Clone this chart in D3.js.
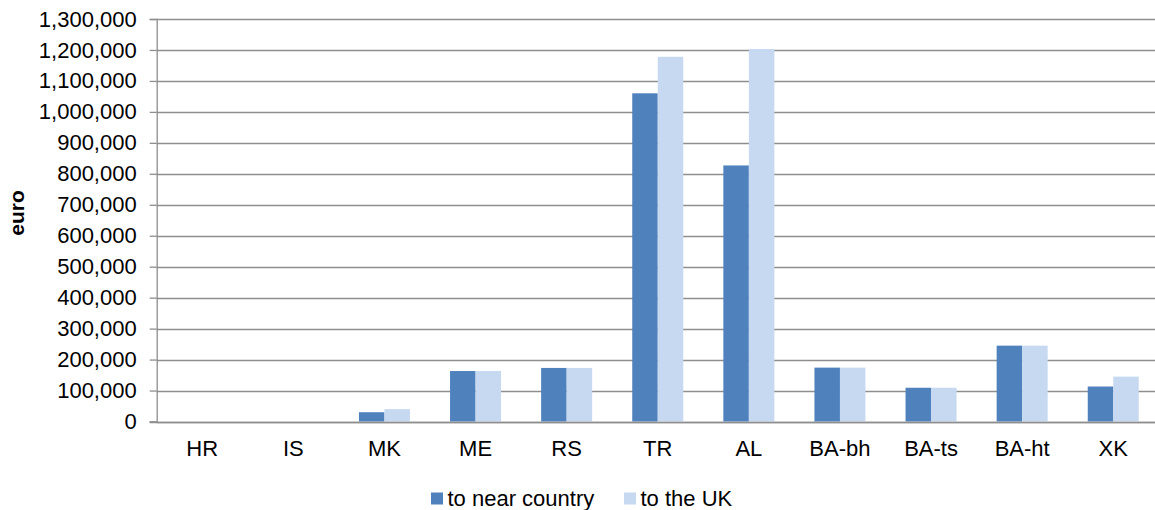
<!DOCTYPE html>
<html>
<head>
<meta charset="utf-8">
<script src="https://cdn.jsdelivr.net/npm/d3@7"></script>
<style>
  html, body { margin: 0; padding: 0; background: #fff; }
  svg { display: block; font-family: "Liberation Sans", Arial, sans-serif; }
</style>
</head>
<body>
<svg id="chart" width="1155" height="510"></svg>
<script>
// Categories and series values (euro)
const categories = ["HR", "IS", "MK", "ME", "RS", "TR", "AL", "BA-bh", "BA-ts", "BA-ht", "XK"];
const seriesNames = ["to near country", "to the UK"];
const nearCountry = [0, 0, 30000, 163000, 173000, 1060000, 827000, 174000, 109000, 245000, 113000];
const toUK        = [0, 0, 40000, 163000, 173000, 1178000, 1203000, 174000, 109000, 245000, 145000];
const yTicks = [0, 100000, 200000, 300000, 400000, 500000, 600000, 700000, 800000, 900000,
                1000000, 1100000, 1200000, 1300000];
const colors = ["#4f81bd", "#c6d9f1"];

const svg = d3.select("#chart");
const plotLeft = 156.7, plotTop = 19, plotBottom = 421.5, step = 91.1;
const plotRight = plotLeft + step * categories.length;

const y = d3.scaleLinear().domain([0, 1300000]).range([plotBottom, plotTop]);
const x = d3.scaleBand().domain(categories).range([plotLeft, plotRight]).paddingInner(0).paddingOuter(0);
const xSub = d3.scaleBand().domain(seriesNames).range([0, x.bandwidth()]).paddingInner(0).paddingOuter(0.786);

// Horizontal gridlines
svg.append("g").selectAll("line")
  .data(yTicks)
  .join("line")
  .attr("x1", plotLeft).attr("x2", plotRight)
  .attr("y1", d => Math.round(y(d)) + 0.5).attr("y2", d => Math.round(y(d)) + 0.5)
  .attr("stroke", "#8e8e8e").attr("stroke-width", 1.3);

// Y axis with tick labels
const yAxis = d3.axisLeft(y).tickValues(yTicks).tickSize(7).tickPadding(13).tickFormat(d3.format(","));
const gy = svg.append("g").attr("transform", `translate(${plotLeft},0)`).call(yAxis);
gy.select(".domain").attr("stroke", "#8e8e8e").attr("stroke-width", 1.3);
gy.selectAll(".tick line").attr("stroke", "#8e8e8e").attr("stroke-width", 1.3);
gy.selectAll(".tick text").attr("font-size", 22).attr("fill", "#000")
  .attr("font-family", "'Liberation Sans', Arial, sans-serif");

// Bars
const seriesData = [nearCountry, toUK];
seriesData.forEach((vals, si) => {
  svg.append("g").selectAll("rect")
    .data(categories.map((c, i) => ({ c, v: vals[i] })))
    .join("rect")
    .attr("x", d => x(d.c) + xSub(seriesNames[si]))
    .attr("width", xSub.bandwidth())
    .attr("y", d => y(d.v))
    .attr("height", d => y(0) - y(d.v))
    .attr("fill", colors[si]);
});

// X axis baseline
svg.append("line")
  .attr("x1", plotLeft - 7).attr("x2", plotRight)
  .attr("y1", Math.round(y(0)) + 0.5).attr("y2", Math.round(y(0)) + 0.5)
  .attr("stroke", "#8e8e8e").attr("stroke-width", 1.3);

// Category labels
const xAxis = d3.axisBottom(x).tickSize(0).tickPadding(18.6);
const gx = svg.append("g").attr("transform", `translate(0,${plotBottom})`).call(xAxis);
gx.select(".domain").remove();
gx.selectAll(".tick text").attr("font-size", 22).attr("fill", "#000")
  .attr("font-family", "'Liberation Sans', Arial, sans-serif");

// Y axis title
svg.append("text")
  .attr("transform", "translate(24,213) rotate(-90)")
  .attr("text-anchor", "middle")
  .attr("font-size", 21).attr("font-weight", "bold")
  .text("euro");

// Legend
const legendItems = [
  { name: seriesNames[0], color: colors[0], x: 431 },
  { name: seriesNames[1], color: colors[1], x: 624 }
];
const lg = svg.append("g");
legendItems.forEach(it => {
  lg.append("rect").attr("x", it.x).attr("y", 492.5).attr("width", 12).attr("height", 12).attr("fill", it.color);
  lg.append("text").attr("x", it.x + 16.5).attr("y", 505.5).attr("font-size", 22).attr("fill", "#000").text(it.name);
});
</script>
</body>
</html>
